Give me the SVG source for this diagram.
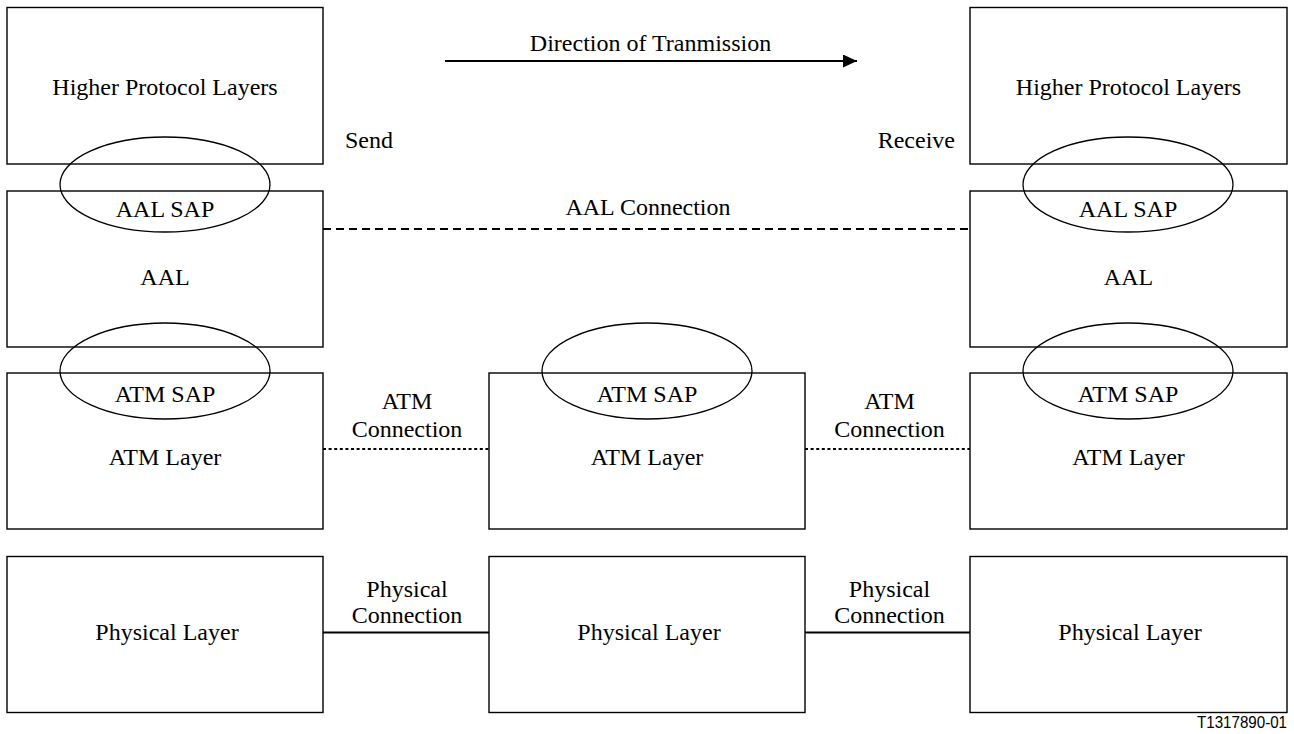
<svg xmlns="http://www.w3.org/2000/svg" width="1294" height="734" viewBox="0 0 1294 734">
<style>
.box{fill:#fff;stroke:#000;stroke-width:1.4}
.sap{fill:none;stroke:#000;stroke-width:1.3}
.t{font-family:"Liberation Serif","Times New Roman",serif;font-size:24px;fill:#000;text-anchor:middle}
.dash{stroke:#000;stroke-width:2;stroke-dasharray:8 5;fill:none}
.dot{stroke:#000;stroke-width:2;stroke-dasharray:3 2.6;fill:none}
.solid{stroke:#000;stroke-width:2;fill:none}
</style>
<defs>
<marker id="arr" viewBox="0 0 14 13" refX="14" refY="6.5" markerWidth="14" markerHeight="13" markerUnits="userSpaceOnUse" orient="auto">
<path d="M0,0 L14,6.5 L0,13 Z" fill="#000"/>
</marker>
</defs>
<g id="connectors">
<line x1="445" y1="61" x2="857" y2="61" stroke="#000" stroke-width="2" marker-end="url(#arr)"/>
<line class="dash" x1="323" y1="229" x2="970" y2="229"/>
<line class="dot" x1="323" y1="449" x2="489" y2="449"/>
<line class="dot" x1="805" y1="449" x2="970" y2="449"/>
<line class="solid" x1="323" y1="632.5" x2="489" y2="632.5"/>
<line class="solid" x1="805" y1="632.5" x2="970" y2="632.5"/>
</g>
<g id="labels">
<text class="t" x="650.5" y="51">Direction of Tranmission</text>
<text class="t" x="345" y="148" style="text-anchor:start">Send</text>
<text class="t" x="955" y="148" style="text-anchor:end">Receive</text>
<text class="t" x="648" y="215">AAL Connection</text>
<text class="t" x="407" y="409">ATM</text>
<text class="t" x="407" y="437">Connection</text>
<text class="t" x="889.5" y="409">ATM</text>
<text class="t" x="889.5" y="437">Connection</text>
<text class="t" x="407" y="597">Physical</text>
<text class="t" x="407" y="623">Connection</text>
<text class="t" x="889.5" y="597">Physical</text>
<text class="t" x="889.5" y="623">Connection</text>
<text x="1287" y="728" font-family="'Liberation Sans',Arial,sans-serif" font-size="16" text-anchor="end" textLength="90" lengthAdjust="spacingAndGlyphs">T1317890-01</text>
</g>
<g id="hpl-left"><rect class="box" x="7" y="7.5" width="316" height="156.5"/><text class="t" x="165" y="95">Higher Protocol Layers</text></g>
<g id="hpl-right"><rect class="box" x="970" y="7.5" width="317" height="156.5"/><text class="t" x="1128.5" y="95">Higher Protocol Layers</text></g>
<g id="aal-left"><rect class="box" x="7" y="191" width="316" height="156"/><text class="t" x="165" y="285">AAL</text></g>
<g id="aal-right"><rect class="box" x="970" y="191" width="317" height="156"/><text class="t" x="1128.5" y="285">AAL</text></g>
<g id="atm-left"><rect class="box" x="7" y="373" width="316" height="156"/><text class="t" x="165" y="465">ATM Layer</text></g>
<g id="atm-mid"><rect class="box" x="489" y="373" width="316" height="156"/><text class="t" x="647" y="465">ATM Layer</text></g>
<g id="atm-right"><rect class="box" x="970" y="373" width="317" height="156"/><text class="t" x="1128.5" y="465">ATM Layer</text></g>
<g id="phy-left"><rect class="box" x="7" y="556.5" width="316" height="156"/><text class="t" x="167" y="640">Physical Layer</text></g>
<g id="phy-mid"><rect class="box" x="489" y="556.5" width="316" height="156"/><text class="t" x="649" y="640">Physical Layer</text></g>
<g id="phy-right"><rect class="box" x="970" y="556.5" width="317" height="156"/><text class="t" x="1130" y="640">Physical Layer</text></g>
<g id="aal-sap-left"><ellipse class="sap" cx="165" cy="184.5" rx="105" ry="47.5"/><text class="t" x="165" y="217">AAL SAP</text></g>
<g id="aal-sap-right"><ellipse class="sap" cx="1128" cy="184.5" rx="105" ry="47.5"/><text class="t" x="1128" y="217">AAL SAP</text></g>
<g id="atm-sap-left"><ellipse class="sap" cx="165" cy="371" rx="105" ry="48"/><text class="t" x="165" y="402">ATM SAP</text></g>
<g id="atm-sap-mid"><ellipse class="sap" cx="647" cy="371" rx="105" ry="48"/><text class="t" x="647" y="402">ATM SAP</text></g>
<g id="atm-sap-right"><ellipse class="sap" cx="1128" cy="371" rx="105" ry="48"/><text class="t" x="1128" y="402">ATM SAP</text></g>
</svg>
